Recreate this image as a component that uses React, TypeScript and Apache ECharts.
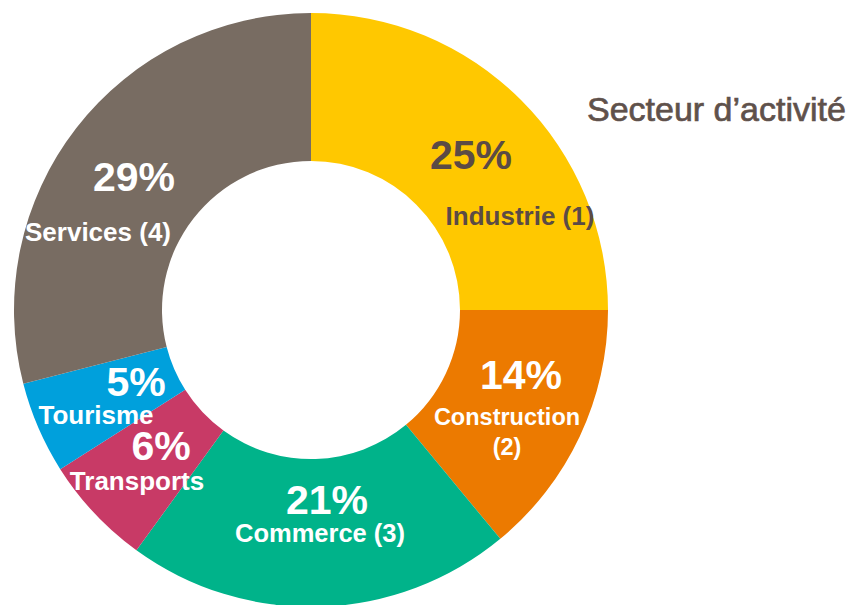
import React, { useEffect, useRef } from "react";
import * as echarts from "echarts";

const categories = ["Industrie (1)", "Construction (2)", "Commerce (3)", "Transports", "Tourisme", "Services (4)"];
const shares = [25, 14, 21, 6, 5, 29];
const sliceColors = ["#FFC800", "#EC7A00", "#00B38A", "#C83A66", "#00A0DC", "#786C62"];
const labelColors = ["#5B4B45", "#FFFFFF", "#FFFFFF", "#FFFFFF", "#FFFFFF", "#FFFFFF"];
const labelNameLines = [["Industrie (1)"], ["Construction", "(2)"], ["Commerce (3)"], ["Transports"], ["Tourisme"], ["Services (4)"]];
const title = "Secteur d’activité";

// label layout (pixel positions / sizes of percentage and name texts)
const pctPos = [[471, 155], [521, 375], [327, 500], [161, 446], [136, 382], [134, 177]];
const namePos = [[520, 216], [507, 417], [320, 533], [137, 481], [96, 415], [98, 232]];
const nameSizes = [26, 23.5, 25.5, 26, 26, 26];
const nameLineHeight = 30;

const FONT = "'Liberation Sans', Arial, Helvetica, sans-serif";

export default function App() {
  const ref = useRef<HTMLDivElement>(null);
  useEffect(() => {
    if (!ref.current) return;
    const chart = echarts.init(ref.current, undefined, { renderer: "svg" });
    const graphics: any[] = [];
    shares.forEach((v, i) => {
      graphics.push({
        type: "text",
        x: pctPos[i][0],
        y: pctPos[i][1],
        z: 100,
        style: {
          text: `${v}%`,
          fill: labelColors[i],
          fontSize: 41,
          lineHeight: 28,
          fontWeight: "bold",
          fontFamily: FONT,
          align: "center",
          verticalAlign: "middle",
        },
      });
      labelNameLines[i].forEach((line, j) => {
        graphics.push({
          type: "text",
          x: namePos[i][0],
          y: namePos[i][1] + j * nameLineHeight,
          z: 100,
          style: {
            text: line,
            fill: labelColors[i],
            fontSize: nameSizes[i],
            lineHeight: 19,
            fontWeight: "bold",
            fontFamily: FONT,
            align: "center",
            verticalAlign: "middle",
          },
        });
      });
    });
    graphics.push({
      type: "text",
      x: 587,
      y: 109,
      style: {
        text: title,
        fill: "#5F514B",
        stroke: "#5F514B",
        lineWidth: 0.7,
        fontSize: 34,
        fontFamily: FONT,
        align: "left",
        verticalAlign: "middle",
      },
    });
    chart.setOption({
      animation: false,
      backgroundColor: "#FFFFFF",
      series: [
        {
          type: "pie",
          center: [311, 310],
          radius: [149, 297],
          startAngle: 90,
          clockwise: true,
          label: { show: false },
          labelLine: { show: false },
          emphasis: { disabled: true },
          itemStyle: { borderWidth: 0 },
          data: categories.map((c, i) => ({
            name: c,
            value: shares[i],
            itemStyle: { color: sliceColors[i] },
          })),
        },
      ],
      graphic: graphics,
    });
    return () => chart.dispose();
  }, []);
  return (
    <div
      ref={ref}
      style={{ position: "fixed", left: 0, top: 0, width: 852, height: 605 }}
    />
  );
}
